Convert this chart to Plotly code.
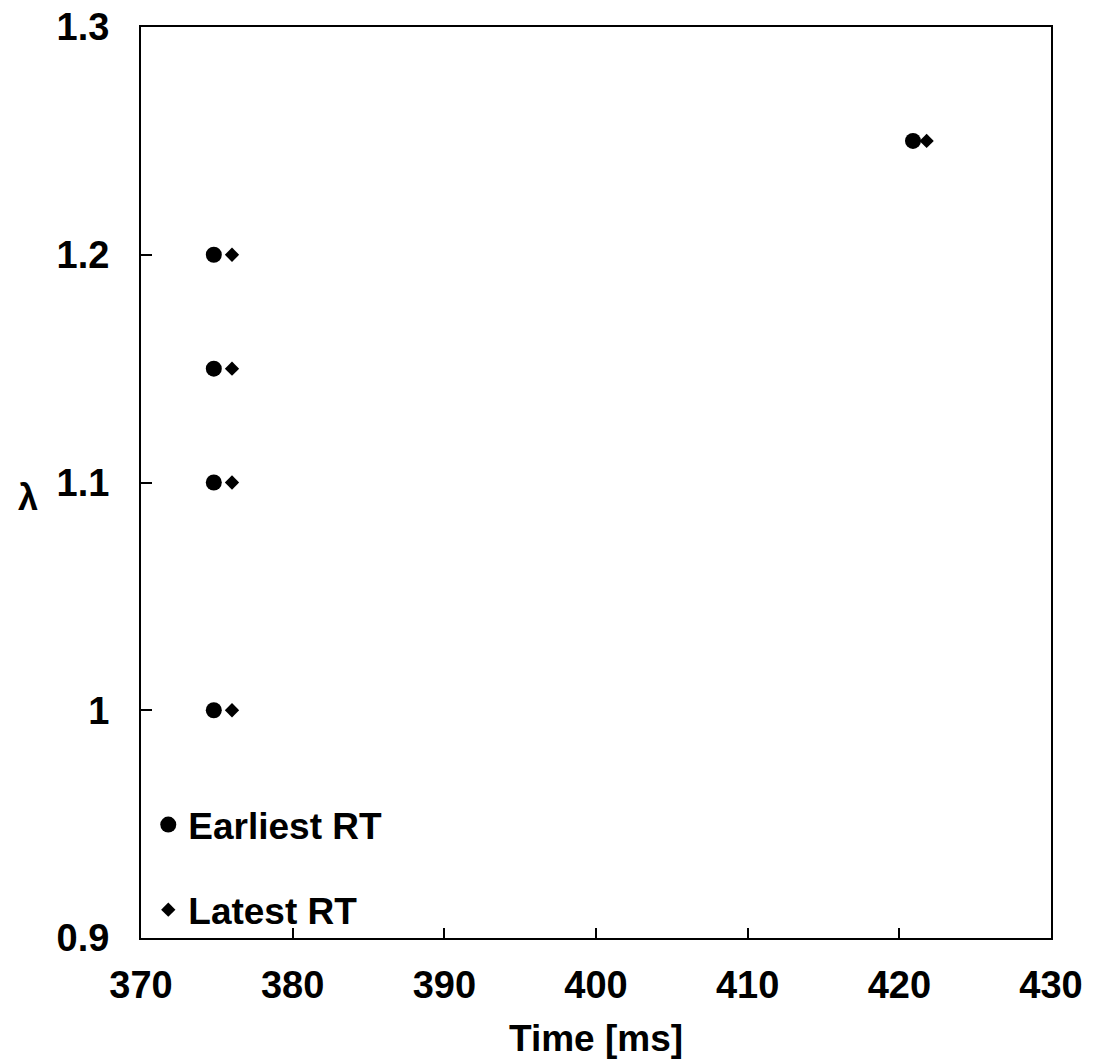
import plotly.graph_objects as go

lam = [1.0, 1.1, 1.15, 1.2, 1.25]
earliest_rt = [374.8, 374.8, 374.8, 374.8, 420.9]
latest_rt = [376.0, 376.0, 376.0, 376.0, 421.8]

x_ticks = [370, 380, 390, 400, 410, 420, 430]
y_ticks = [0.9, 1.0, 1.1, 1.2, 1.3]

FONT = "Liberation Sans, Arial, sans-serif"

fig = go.Figure()
fig.add_trace(go.Scatter(
    x=earliest_rt, y=lam, mode="markers", name="Earliest RT",
    legendgroup="a",
    marker=dict(symbol="circle", size=16, color="black"),
))
fig.add_trace(go.Scatter(
    x=latest_rt, y=lam, mode="markers", name="Latest RT",
    legendgroup="b",
    marker=dict(symbol="diamond", size=11, color="black"),
))

fig.update_layout(
    width=1101, height=1059,
    margin=dict(l=141, r=50, t=27, b=121, autoexpand=False),
    paper_bgcolor="white", plot_bgcolor="white",
    font=dict(family=FONT, size=36, color="black", weight="bold"),
    showlegend=True,
    legend=dict(
        x=0.008, y=0.158, xanchor="left", yanchor="top",
        bgcolor="rgba(0,0,0,0)", borderwidth=0,
        tracegroupgap=34, itemsizing="trace",
        font=dict(family=FONT, size=37, color="black", weight="bold"),
    ),
    xaxis=dict(
        range=[370, 430], tickvals=x_ticks, ticks="inside", ticklen=10,
        tickwidth=2, tickcolor="black", showline=True, linewidth=2,
        linecolor="black", mirror=True, showgrid=False, zeroline=False,
        automargin=False,
        tickfont=dict(family=FONT, size=38, color="black", weight="bold"),
        ticklabelstandoff=12,
        title=dict(text="Time [ms]", standoff=22,
                   font=dict(family=FONT, size=37, color="black", weight="bold")),
    ),
    yaxis=dict(
        range=[0.9, 1.3], tickvals=y_ticks, ticks="inside", ticklen=11,
        tickwidth=2, tickcolor="black", showline=True, linewidth=2,
        linecolor="black", mirror=True, showgrid=False, zeroline=False,
        automargin=False,
        tickfont=dict(family=FONT, size=38, color="black", weight="bold"),
        ticklabelstandoff=22,
    ),
    annotations=[dict(
        text="λ", xref="paper", yref="paper", x=-0.1245, y=0.4838,
        xanchor="center", yanchor="middle", showarrow=False,
        font=dict(family=FONT, size=36, color="black", weight="bold"),
    )],
)

fig.write_html("out.html")
